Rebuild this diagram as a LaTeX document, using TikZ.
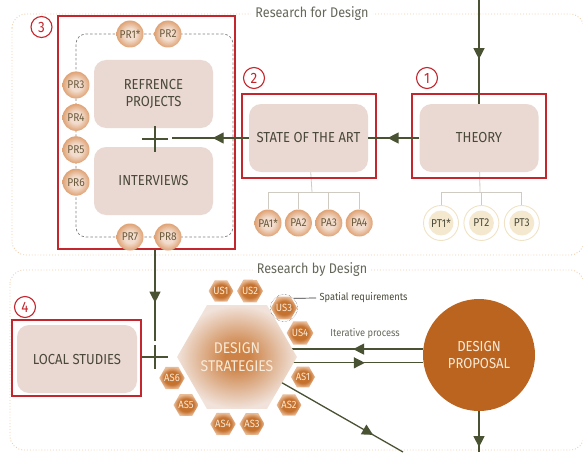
\documentclass[tikz,border=0pt]{standalone}
\usepackage{fontspec}
\setmainfont{Fira Sans}[FakeStretch=0.9]
\usetikzlibrary{arrows.meta,positioning,shapes.geometric,decorations.markings,backgrounds}

\definecolor{arrowcol}{HTML}{4A5234}
\definecolor{boxfill}{HTML}{EAD9D3}
\definecolor{redline}{HTML}{C4262E}
\definecolor{regioncol}{HTML}{ECCDAA}
\definecolor{txtdark}{HTML}{4A4838}
\definecolor{labelgray}{HTML}{66675A}
\definecolor{ballin}{HTML}{F2DCCD}
\definecolor{ballout}{HTML}{DFA274}
\definecolor{balltext}{HTML}{6B5A3C}
\definecolor{hexin}{HTML}{C5722F}
\definecolor{hexout}{HTML}{E9BC98}
\definecolor{bhin}{HTML}{CD8347}
\definecolor{bhout}{HTML}{F1E3DB}
\definecolor{hextext}{HTML}{F8EAD8}
\definecolor{propfill}{HTML}{BA6420}
\definecolor{ptfill}{HTML}{F4E9CF}
\definecolor{ptring}{HTML}{F0E2C4}
\definecolor{treecol}{HTML}{CFCAC2}

\pgfdeclareradialshading{ballshade}{\pgfpointorigin}{color(0bp)=(ballin); color(11bp)=(ballin); color(25bp)=(ballout); color(50bp)=(ballout)}
\pgfdeclareradialshading{smallhex}{\pgfpointorigin}{color(0bp)=(hexin); color(15bp)=(hexin); color(25bp)=(hexout); color(50bp)=(hexout)}
\pgfdeclareradialshading{bigshade}{\pgfpointorigin}{color(0bp)=(bhin); color(5bp)=(bhin); color(25bp)=(bhout); color(50bp)=(bhout)}

\begin{document}
\begin{tikzpicture}[
  x=1pt,y=-1pt,
  every node/.style={font=\fontsize{12}{14}\selectfont,text=txtdark},
  box/.style={rounded corners=12pt,fill=boxfill,minimum width=119pt,minimum height=68pt,align=center,font=\fontsize{14.5}{17}\selectfont},
  redbox/.style={draw=redline,line width=1.4pt},
  num/.style={circle,draw=redline,line width=1.1pt,minimum size=21pt,inner sep=0pt,text=redline,font=\fontsize{15}{15}\selectfont},
  ball/.style={circle,shading=ballshade,minimum size=27pt,inner sep=0pt,text=balltext,font=\fontsize{11.3}{12}\selectfont},
  ptball/.style={circle,draw=ptring,line width=0.9pt,minimum size=35pt,inner sep=0pt,font=\fontsize{11.3}{12}\selectfont,
    path picture={\fill[ptfill] (path picture bounding box.center) circle (12.5pt);}},
  hexs/.style={regular polygon,regular polygon sides=6,minimum size=24pt,inner sep=0pt,shading=smallhex,text=hextext,font=\fontsize{10.5}{11}\selectfont},
  bighex/.style={regular polygon,regular polygon sides=6,minimum size=120pt,inner sep=0pt,shading=bigshade,align=center,text=hextext,font=\fontsize{15.5}{18}\selectfont},
  prop/.style={circle,fill=propfill,minimum size=112pt,align=center,text=hextext,font=\fontsize{14.5}{17.5}\selectfont},
  conn/.style={draw=arrowcol,line width=1.3pt},
  midarr/.style={postaction={decorate},decoration={markings,mark=at position #1 with {\arrow{Triangle[length=11pt,width=11pt]}}}},
  tree/.style={draw=treecol,line width=0.8pt},
  region/.style={draw=regioncol,dotted,line width=0.9pt,rounded corners=14pt},
  pframe/.style={draw=gray,dash pattern=on 2.5pt off 2pt,line width=0.7pt,rounded corners=10pt},
  rlabel/.style={fill=white,text=labelgray,inner xsep=4pt,font=\fontsize{14}{14}\selectfont},
  note/.style={font=\fontsize{10.3}{11}\selectfont}
]
\useasboundingbox (0,0) rectangle (583,452);

% research for design
\node[box] (ref) at (153.5,94) {REFRENCE\\PROJECTS};
\node[box] (int) at (153.5,181) {INTERVIEWS};
\node[box] (state) at (308.5,138) {STATE OF THE ART};
\node[box] (theory) at (479,138) {THEORY};

\node[redbox,minimum width=177pt,minimum height=233pt] (f3) at (146.5,132.5) {};
\node[redbox,minimum width=134pt,minimum height=84pt] (f2) at (309,136) {};
\node[redbox,minimum width=134pt,minimum height=84pt] (f1) at (479,136) {};
\node[num] (n3) at (41.5,27) {3};
\node[num] (n2) at (254,78) {2};
\node[num] (n1) at (427,78) {1};

\node[ball] (pr1) at (130,34) {PR1*};
\node[ball] (pr2) at (168,34) {PR2};
\node[ball] (pr3) at (76,85) {PR3};
\node[ball,below=5pt of pr3] (pr4) {PR4};
\node[ball,below=5pt of pr4] (pr5) {PR5};
\node[ball,below=5pt of pr5] (pr6) {PR6};
\node[ball] (pr7) at (130,237) {PR7};
\node[ball] (pr8) at (168,237) {PR8};

\node[ball] (pa1) at (268,223) {PA1*};
\node[ball,right=3pt of pa1] (pa2) {PA2};
\node[ball,right=3pt of pa2] (pa3) {PA3};
\node[ball,right=3pt of pa3] (pa4) {PA4};

\node[ptball] (pt1) at (441,223) {PT1*};
\node[ptball,right=4.5pt of pt1] (pt2) {PT2};
\node[ptball,right=4.5pt of pt2] (pt3) {PT3};

\node[rlabel] (rfd) at (312,14) {Research for Design};

% research by design
\node[box,minimum width=120pt] (local) at (77,359) {LOCAL STUDIES};
\node[redbox,minimum width=129pt,minimum height=76pt] (f4) at (76.5,358) {};
\node[num] (n4) at (25,307) {4};

\node[bighex] (hex) at (237,357) {DESIGN\\STRATEGIES};
\foreach \t/\x/\y in {US1/221/291,US2/250/291,US3/284/308,US4/300/333,
  AS1/303/377,AS2/289/405,AS3/252/424,AS4/223/424,AS5/186/405,AS6/172/378}
  \node[hexs] (h\t) at (\x,\y) {\t};
\node[circle,draw=black!75,densely dotted,minimum size=27pt] (ring3) at (hUS3) {};
\node[note,anchor=west] (spat) at (316,298) {Spatial requirements};
\draw[draw=black!80,line width=0.7pt] (ring3.45) -- (spat.west);

\node[prop] (prop) at (479,355) {DESIGN\\PROPOSAL};
\node[note,text=labelgray] (iter) at (365,334) {Iterative process};
\node[rlabel] (rbd) at (312,270) {Research by Design};

\coordinate (in) at (479,0);
\coordinate (xa) at (155,139);
\coordinate (xaE) at (172,138);
\coordinate (xb) at (155,357);
\coordinate (xbN) at (155,341);
\coordinate (tA) at (312,192);
\coordinate (tB) at (480,192);
\coordinate (out1) at (479,452);
\coordinate (out2) at (403,452);

\draw[conn,midarr=0.57] (in) -- (theory);
\draw[conn,midarr=0.62] (theory) -- (state);
\draw[conn,midarr=0.47] (state) -- (xaE);
\draw[conn] (xa) ++(-13,0) -- ++(26,0) (xa) ++(0,-13) -- ++(0,26);
\draw[conn,midarr=0.58] (f3.south -| xb) -- (xbN);
\draw[conn] (xb) ++(-13,0) -- ++(26,0) (xb) ++(0,-12) -- ++(0,24);
\draw[conn,midarr=0.88] (prop) -- (out1);

\begin{scope}[on background layer]
  \draw[region] (12,14) rectangle (584,255);
  \draw[region] (10,270) rectangle (584,450);
  \node[pframe,minimum width=157pt,minimum height=203pt] (prset) at (154.5,135.5) {};
  \draw[tree] (state) -- (tA);
  \foreach \i in {1,...,4} \draw[tree] (pa\i) |- (tA);
  \draw[tree] (theory) -- (tB);
  \foreach \i in {1,...,3} \draw[tree] (pt\i) |- (tB);
  \draw[conn,midarr=0.376] (prop.174) -- (prop.174 -| hex.center);
  \draw[conn,midarr=0.686] (prop.188 -| hex.center) -- (prop.188);
  \draw[conn,midarr=0.82] (hex.center) -- (out2);
\end{scope}
\end{tikzpicture}
\end{document}
